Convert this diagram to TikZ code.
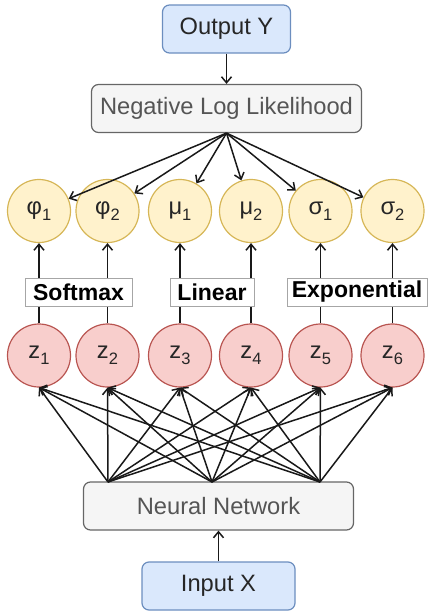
\documentclass[tikz,border=0pt]{standalone}
\usepackage{fontspec}
\setmainfont{Liberation Sans}
\usetikzlibrary{arrows.meta}
\definecolor{blueFill}{HTML}{DAE8FC}
\definecolor{blueLine}{HTML}{6C8EBF}
\definecolor{grayFill}{HTML}{F5F5F5}
\definecolor{grayLine}{HTML}{666666}
\definecolor{yelFill}{HTML}{FFF2CC}
\definecolor{yelLine}{HTML}{D6B656}
\definecolor{redFill}{HTML}{F8CECC}
\definecolor{redLine}{HTML}{B85450}
\definecolor{labLine}{HTML}{A6A6A6}
\definecolor{darkText}{HTML}{262626}
\definecolor{grayText}{HTML}{555555}
\newcommand{\idx}[1]{\raisebox{-6pt}{\fontsize{16.5}{18}\selectfont #1}}
\begin{document}
\begin{tikzpicture}[x=1pt,y=-1pt]
    \useasboundingbox (0,0) rectangle (432,613);
    % boxes
    \begin{scope}
        \tikzstyle{every node}=[draw, rounded corners=7pt, line width=1.2pt, inner sep=0pt, minimum height=48pt, font=\fontsize{23.7}{28}\selectfont]
        \node[fill=blueFill, draw=blueLine, text=darkText, minimum width=128pt] (out) at (226.5,29) {Output Y};
        \node[fill=grayFill, draw=grayLine, text=grayText, minimum width=270pt] (nll) at (226.5,108.5) {Negative Log Likelihood};
        \node[fill=grayFill, draw=grayLine, text=grayText, minimum width=270pt] (nn) at (218.5,506) {Neural Network};
        \node[fill=blueFill, draw=blueLine, text=darkText, minimum width=153pt] (in) at (218.5,586) {Input X};
    \end{scope}
    % output parameters
    \begin{scope}
        \tikzstyle{every node}=[circle, fill=yelFill, draw=yelLine, line width=1.2pt, minimum size=63pt, inner sep=0pt, text=darkText, font=\fontsize{23.7}{28}\selectfont]
        \node (phi1) at (39,211) {φ\idx{1}};
        \node (phi2) at (107.5,211) {φ\idx{2}};
        \node (mu1) at (180,211) {μ\idx{1}};
        \node (mu2) at (251,211) {μ\idx{2}};
        \node (sig1) at (320.5,211) {σ\idx{1}};
        \node (sig2) at (392.5,211) {σ\idx{2}};
    \end{scope}
    % network outputs
    \begin{scope}
        \tikzstyle{every node}=[circle, fill=redFill, draw=redLine, line width=1.2pt, minimum size=63pt, inner sep=0pt, text=darkText, font=\fontsize{23.7}{28}\selectfont]
        \node (z1) at (39,355.5) {z\idx{1}};
        \node (z2) at (107.5,355.5) {z\idx{2}};
        \node (z3) at (180,355.5) {z\idx{3}};
        \node (z4) at (251,355.5) {z\idx{4}};
        \node (z5) at (320.5,355.5) {z\idx{5}};
        \node (z6) at (392.5,355.5) {z\idx{6}};
    \end{scope}
    \coordinate (nn1) at (108,482);
    \coordinate (nn2) at (212,482);
    \coordinate (nn3) at (320,482);
    \begin{scope}
        \tikzstyle{every edge}=[draw, line width=1.5pt, black!90, -{Straight Barb[length=6pt,width=10pt]}]
        \path
        (out) edge (nll)
        (in) edge (nn)
        (nll.south) edge (phi1)
        (nll.south) edge (phi2)
        (nll.south) edge (mu1)
        (nll.south) edge (mu2)
        (nll.south) edge (sig1)
        (nll.south) edge (sig2)
        (z1) edge (phi1)
        (z2) edge (phi2)
        (z3) edge (mu1)
        (z4) edge (mu2)
        (z5) edge (sig1)
        (z6) edge (sig2);
        \path
        (nn1) edge (z1.south)
        (nn1) edge (z2.south)
        (nn1) edge (z3.south)
        (nn1) edge (z4.south)
        (nn1) edge (z5.south)
        (nn1) edge (z6.south);
        \path
        (nn2) edge (z1.south)
        (nn2) edge (z2.south)
        (nn2) edge (z3.south)
        (nn2) edge (z4.south)
        (nn2) edge (z5.south)
        (nn2) edge (z6.south);
        \path
        (nn3) edge (z1.south)
        (nn3) edge (z2.south)
        (nn3) edge (z3.south)
        (nn3) edge (z4.south)
        (nn3) edge (z5.south)
        (nn3) edge (z6.south);
    \end{scope}
    % activation labels
    \begin{scope}
        \tikzstyle{every node}=[fill=white, draw=labLine, line width=0.8pt, inner sep=0pt, minimum height=28pt, text=black, font=\fontsize{23}{28}\selectfont\bfseries]
        \node[minimum width=107pt] (soft) at (78.5,292) {Softmax};
        \node[minimum width=84pt] (lin) at (212,292) {Linear};
        \node[minimum width=140pt] (expo) at (357,292) {Exponential};
    \end{scope}
\end{tikzpicture}
\end{document}
